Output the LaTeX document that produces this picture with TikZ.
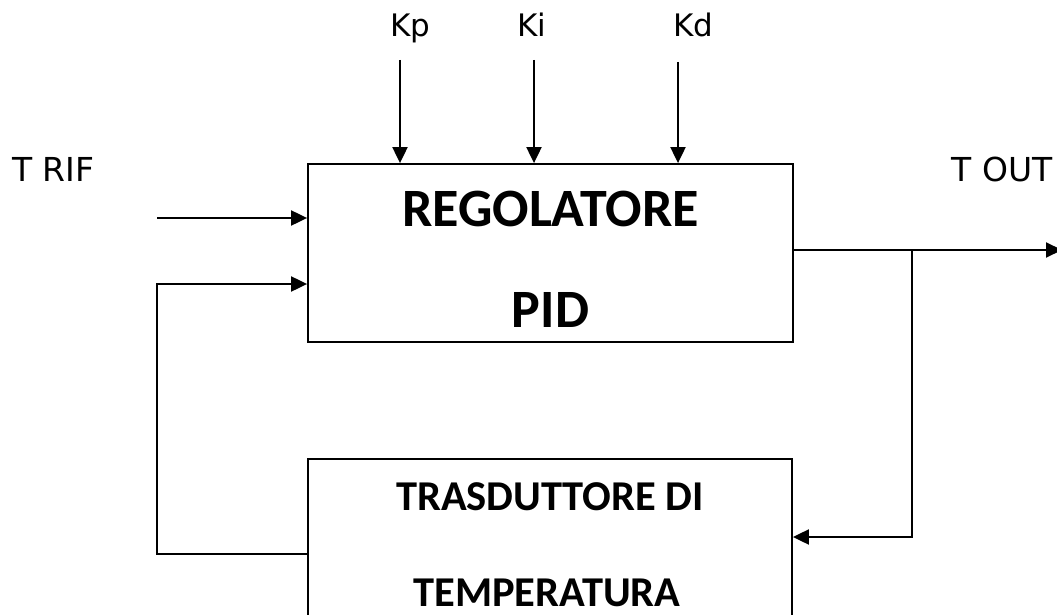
\documentclass[tikz,border=0pt]{standalone}
\usepackage{fontspec}
\setmainfont{DejaVu Sans}
\newfontfamily\boxfont{Carlito}
\usetikzlibrary{arrows.meta}
\begin{document}
\begin{tikzpicture}[x=1pt,y=-1pt,
  blk/.style={draw,line width=1.8pt,rectangle,inner sep=0pt},
  conn/.style={line width=2pt},
  arr/.style={conn,-{Triangle[length=16pt,width=15pt]}},
  lbl/.style={anchor=base,inner sep=0pt,font=\fontsize{31}{36}\selectfont},
  tlbl/.style={anchor=base,inner sep=0pt,font=\fontsize{33}{38}\selectfont},
  btxt/.style={anchor=base,inner sep=0pt,font=\boxfont\bfseries\fontsize{54}{60}\selectfont},
  ttxt/.style={anchor=base,inner sep=0pt,font=\boxfont\bfseries\fontsize{42.5}{50}\selectfont}]
\useasboundingbox (0,0) rectangle (1057,615);
\clip (0,0) rectangle (1057,615);
\fill[white] (0,0) rectangle (1057,615);
% blocks
\node[blk,minimum width=485pt,minimum height=178pt] (pid) at (550.5,253) {};
\node[blk,minimum width=484pt,minimum height=200pt] (tras) at (550,559) {};
\node[btxt] (t1) at (550.5,226) {REGOLATORE};
\node[btxt] (t2) at (550.5,327) {PID};
\node[ttxt] (t3) at (550,510) {TRASDUTTORE DI};
\node[ttxt] (t4) at (547,606) {TEMPERATURA};
% labels
\node[lbl] (kp) at (410,37) {Kp};
\node[lbl] (ki) at (532,37) {Ki};
\node[lbl] (kd) at (693,37) {Kd};
\node[tlbl,anchor=base west] (trif) at (12,181) {T RIF};
\node[tlbl,anchor=base east] (tout) at (1053,181) {T OUT};
% gain coordinates
\coordinate (kps) at (400,60);
\coordinate (kis) at (534,60);
\coordinate (kds) at (678,62);
\draw[arr] (kps) -- (kps |- pid.north);
\draw[arr] (kis) -- (kis |- pid.north);
\draw[arr] (kds) -- (kds |- pid.north);
% reference input
\coordinate (rin) at (157,218);
\draw[arr] (rin) -- (rin -| pid.west);
% output
\coordinate (oend) at (1062,250);
\coordinate (junc) at (912,250);
\draw[arr] (pid.east |- junc) -- (oend);
\coordinate (fbr) at (912,537);
\draw[arr] (junc) -- (fbr) -- (fbr -| tras.east);
% feedback
\coordinate (fbl) at (157,554);
\coordinate (fbu) at (157,284);
\draw[arr] (fbl -| tras.west) -- (fbl) -- (fbu) -- (fbu -| pid.west);
\end{tikzpicture}
\end{document}
